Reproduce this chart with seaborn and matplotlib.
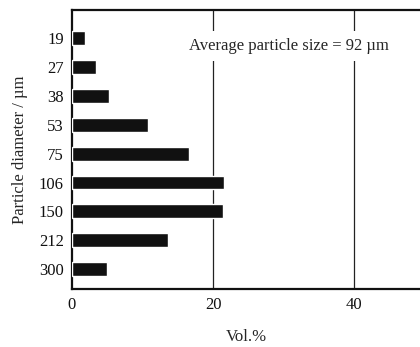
"""Particle size distribution bar chart."""

import matplotlib
matplotlib.use("Agg")
import matplotlib.pyplot as plt
import pandas as pd
import seaborn as sns

# Data
diameters = ["19", "27", "38", "53", "75", "106", "150", "212", "300"]
vol_pct = [1.8, 3.4, 5.2, 10.8, 16.6, 21.6, 21.4, 13.6, 5.0]
x_ticks = [0, 20, 40]

df = pd.DataFrame({"diameter": diameters, "vol": vol_pct})

sns.set_style("white")
plt.rcParams["font.family"] = ["Liberation Serif", "DejaVu Serif"]

fig = plt.figure(figsize=(4.2, 3.47), dpi=100)
ax = fig.add_axes([72 / 420, 58 / 347, 348 / 420, 279 / 347])

sns.barplot(data=df, x="vol", y="diameter", order=diameters, orient="h",
            color="#111111", width=0.48, ax=ax, zorder=3)

for xv in x_ticks[1:]:
    ax.axvline(xv, color="#222222", lw=0.9, zorder=1)

ax.set_xlim(0, 49.36)
ax.set_ylim(8.69, -0.98)
ax.set_xticks(x_ticks)
ax.tick_params(axis="both", length=0, labelsize=12, colors="#111111")
ax.tick_params(axis="y", pad=6)
ax.tick_params(axis="x", pad=6)

for side in ["left", "bottom", "top"]:
    ax.spines[side].set_color("#111111")
    ax.spines[side].set_linewidth(1.6)
ax.spines["right"].set_visible(False)

ax.set_xlabel("Vol.%", fontsize=12, labelpad=11)
ax.set_ylabel("Particle diameter / µm", fontsize=12, labelpad=8)

ax.text(0.335, 0.87, "Average particle size = 92 µm", transform=ax.transAxes,
        fontsize=12, va="center", ha="left", zorder=4,
        bbox=dict(facecolor="white", edgecolor="none", pad=5))

fig.savefig("out.png", dpi=100)
